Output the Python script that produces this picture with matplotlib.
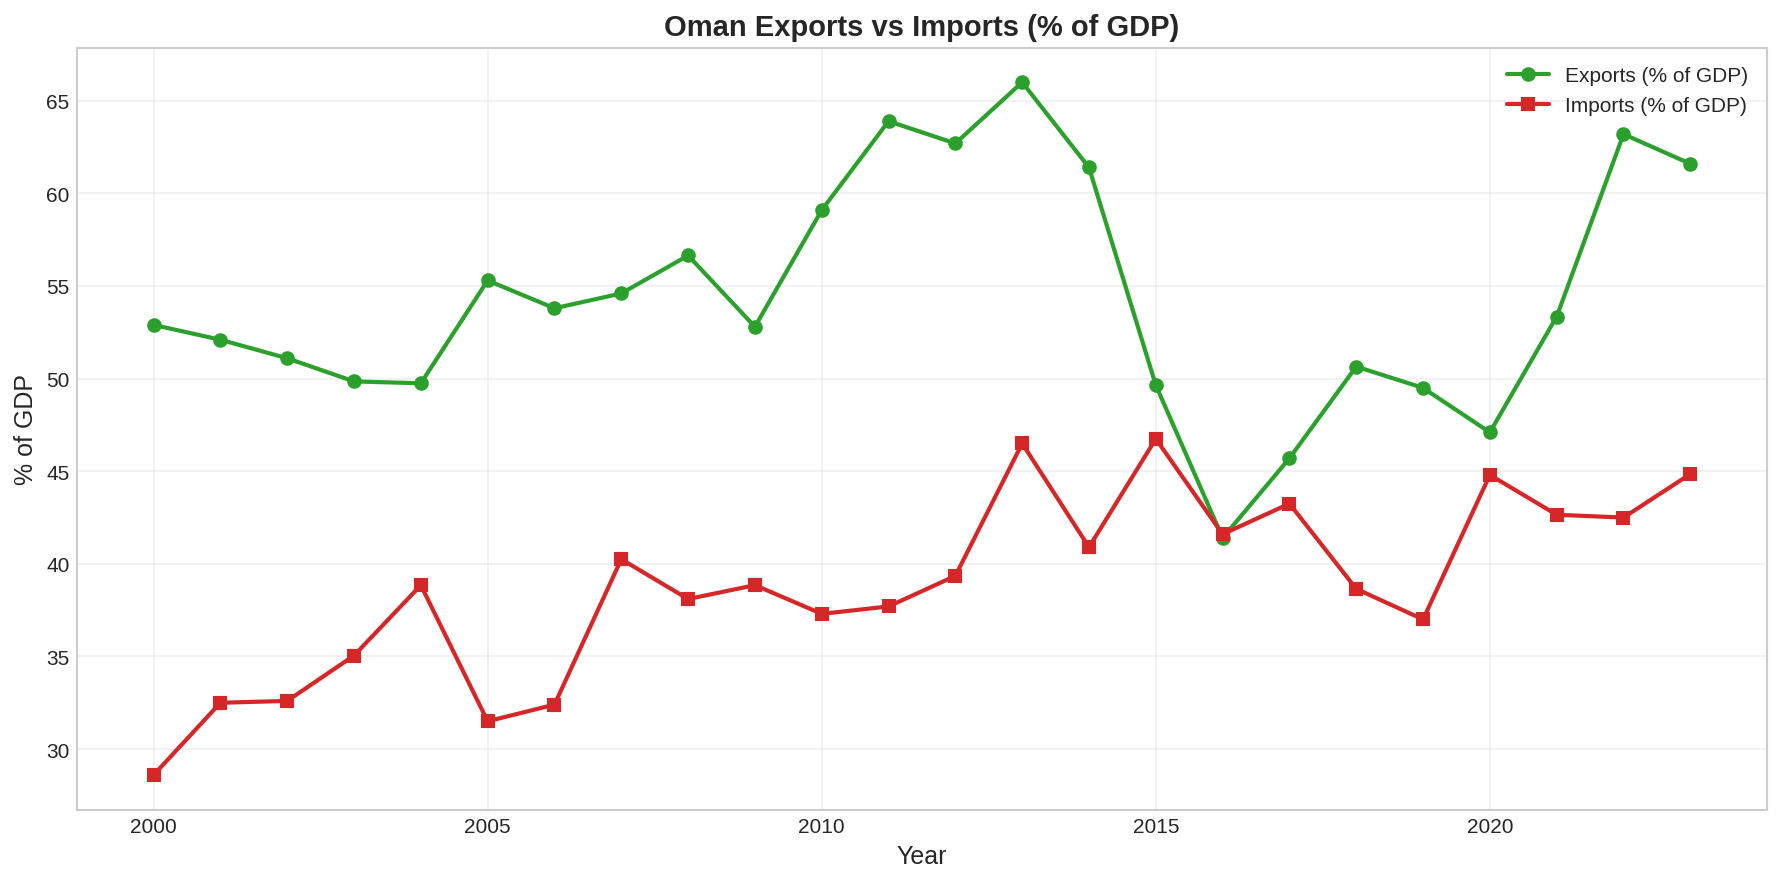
import numpy as np
import matplotlib
matplotlib.use("Agg")
import matplotlib.pyplot as plt

plt.style.use("seaborn-v0_8-whitegrid")
plt.rcParams['font.family'] = ['Liberation Sans', 'DejaVu Sans']

years = list(range(2000, 2024))
exports = [52.9, 52.1, 51.1, 49.85, 49.75, 55.3, 53.8, 54.6, 56.65, 52.8,
           59.1, 63.9, 62.7, 66.0, 61.4, 49.65, 41.4, 45.7, 50.65, 49.5,
           47.1, 53.35, 63.2, 61.6]
imports = [28.6, 32.5, 32.6, 35.05, 38.85, 31.5, 32.4, 40.25, 38.1, 38.85,
           37.3, 37.7, 39.35, 46.5, 40.9, 46.75, 41.6, 43.25, 38.65, 37.0,
           44.8, 42.65, 42.5, 44.85]

fig, ax = plt.subplots(figsize=(11.9, 5.893), dpi=150)

ax.plot(years, exports, color="#2ca02c", marker="o", linewidth=2, markersize=6,
        label="Exports (% of GDP)")
ax.plot(years, imports, color="#d62728", marker="s", linewidth=2, markersize=6,
        label="Imports (% of GDP)")

ax.set_title("Oman Exports vs Imports (% of GDP)", fontsize=14, fontweight="bold")
ax.set_xlabel("Year", fontsize=12)
ax.set_ylabel("% of GDP", fontsize=12)
ax.grid(True, alpha=0.3)
for s in ax.spines.values():
    s.set_visible(True)
    s.set_color("#cccccc")
ax.legend(loc="upper right")

fig.subplots_adjust(left=0.043, right=0.99, top=0.945, bottom=0.083)
fig.savefig("out.png", dpi=150)
